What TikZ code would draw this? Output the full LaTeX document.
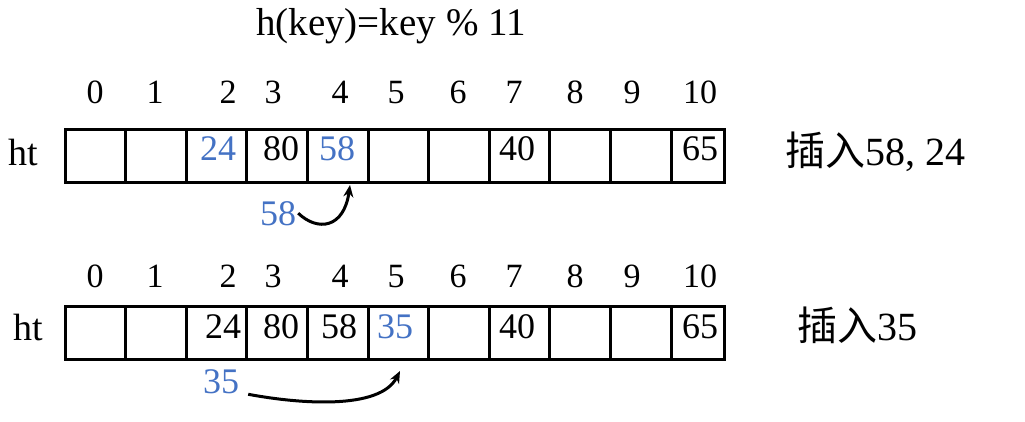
\documentclass[tikz,border=0pt]{standalone}
\usepackage{fontspec}
\setmainfont{Liberation Serif}
\newfontfamily\cjk{Noto Sans CJK SC}
\usetikzlibrary{arrows.meta}
\definecolor{keyblue}{HTML}{4472C4}
\tikzset{
  cell/.style={draw, line width=3pt, minimum width=60.6pt, minimum height=53pt, inner sep=0pt, outer sep=0pt},
  idx/.style={font=\fontsize{34}{40}\selectfont, anchor=base, inner sep=0pt},
  val/.style={font=\fontsize{36}{42}\selectfont, anchor=base, inner sep=0pt},
  newkey/.style={val, text=keyblue},
  note/.style={font=\fontsize{40}{46}\selectfont, anchor=base west, inner sep=0pt},
  probe/.style={-{Stealth[length=12pt,width=10pt]}, line width=3pt},
}
\begin{document}
\begin{tikzpicture}[x=1pt,y=-1pt]
    \useasboundingbox (0,0) rectangle (1025,421);
    \node[font=\fontsize{39}{46}\selectfont, anchor=base, inner sep=0pt] (hash) at (391,35) {h(key)=key \% 11};
    % first row
    \foreach \n/\x in {0/95,1/155,2/228,3/273,4/340,5/396,6/458,7/514,8/575,9/632,10/700}
        \node[idx] (i\n) at (\x,103) {\n};
    \node[font=\fontsize{38}{44}\selectfont, anchor=base, inner sep=0pt] (ht1) at (23,165) {ht};
    \foreach \i in {0,...,9}
        \node[cell] (a\i) at ({95.3+60.6*\i},155.5) {};
    \node[cell, minimum width=53pt] (a10) at (697.5,155.5) {};
    \node[newkey] (v24) at (218,160) {24};
    \node[val] (v80) at (281,160) {80};
    \node[newkey] (v58) at (337,160) {58};
    \node[val] (v40) at (517,160) {40};
    \node[val] (v65) at (700,160) {65};
    \node[note] (ins1) at (785,165) {{\cjk 插入}58, 24};
    \node[newkey] (k58) at (278,225) {58};
    \coordinate (t1) at (350,185);
    \draw[probe] ([xshift=2pt]k58.east) .. controls (318,232) and (344,228) .. (t1);
    % second row
    \foreach \n/\x in {0/95,1/155,2/228,3/273,4/340,5/396,6/458,7/514,8/575,9/632,10/700}
        \node[idx] (j\n) at (\x,287) {\n};
    \node[font=\fontsize{38}{44}\selectfont, anchor=base, inner sep=0pt] (ht2) at (28,340) {ht};
    \foreach \i in {0,...,9}
        \node[cell] (b\i) at ({95.3+60.6*\i},333) {};
    \node[cell, minimum width=53pt] (b10) at (697.5,333) {};
    \node[val] (w24) at (223,338) {24};
    \node[val] (w80) at (281,338) {80};
    \node[val] (w58) at (339,338) {58};
    \node[newkey] (w35) at (395,338) {35};
    \node[val] (w40) at (517,338) {40};
    \node[val] (w65) at (700,338) {65};
    \node[note] (ins2) at (797,340) {{\cjk 插入}35};
    \node[newkey] (k35) at (221,393) {35};
    \coordinate (t2) at (400,371);
    \draw[probe] ([xshift=9pt,yshift=-13pt]k35.east) .. controls (300,404) and (380,410) .. (t2);
\end{tikzpicture}
\end{document}
